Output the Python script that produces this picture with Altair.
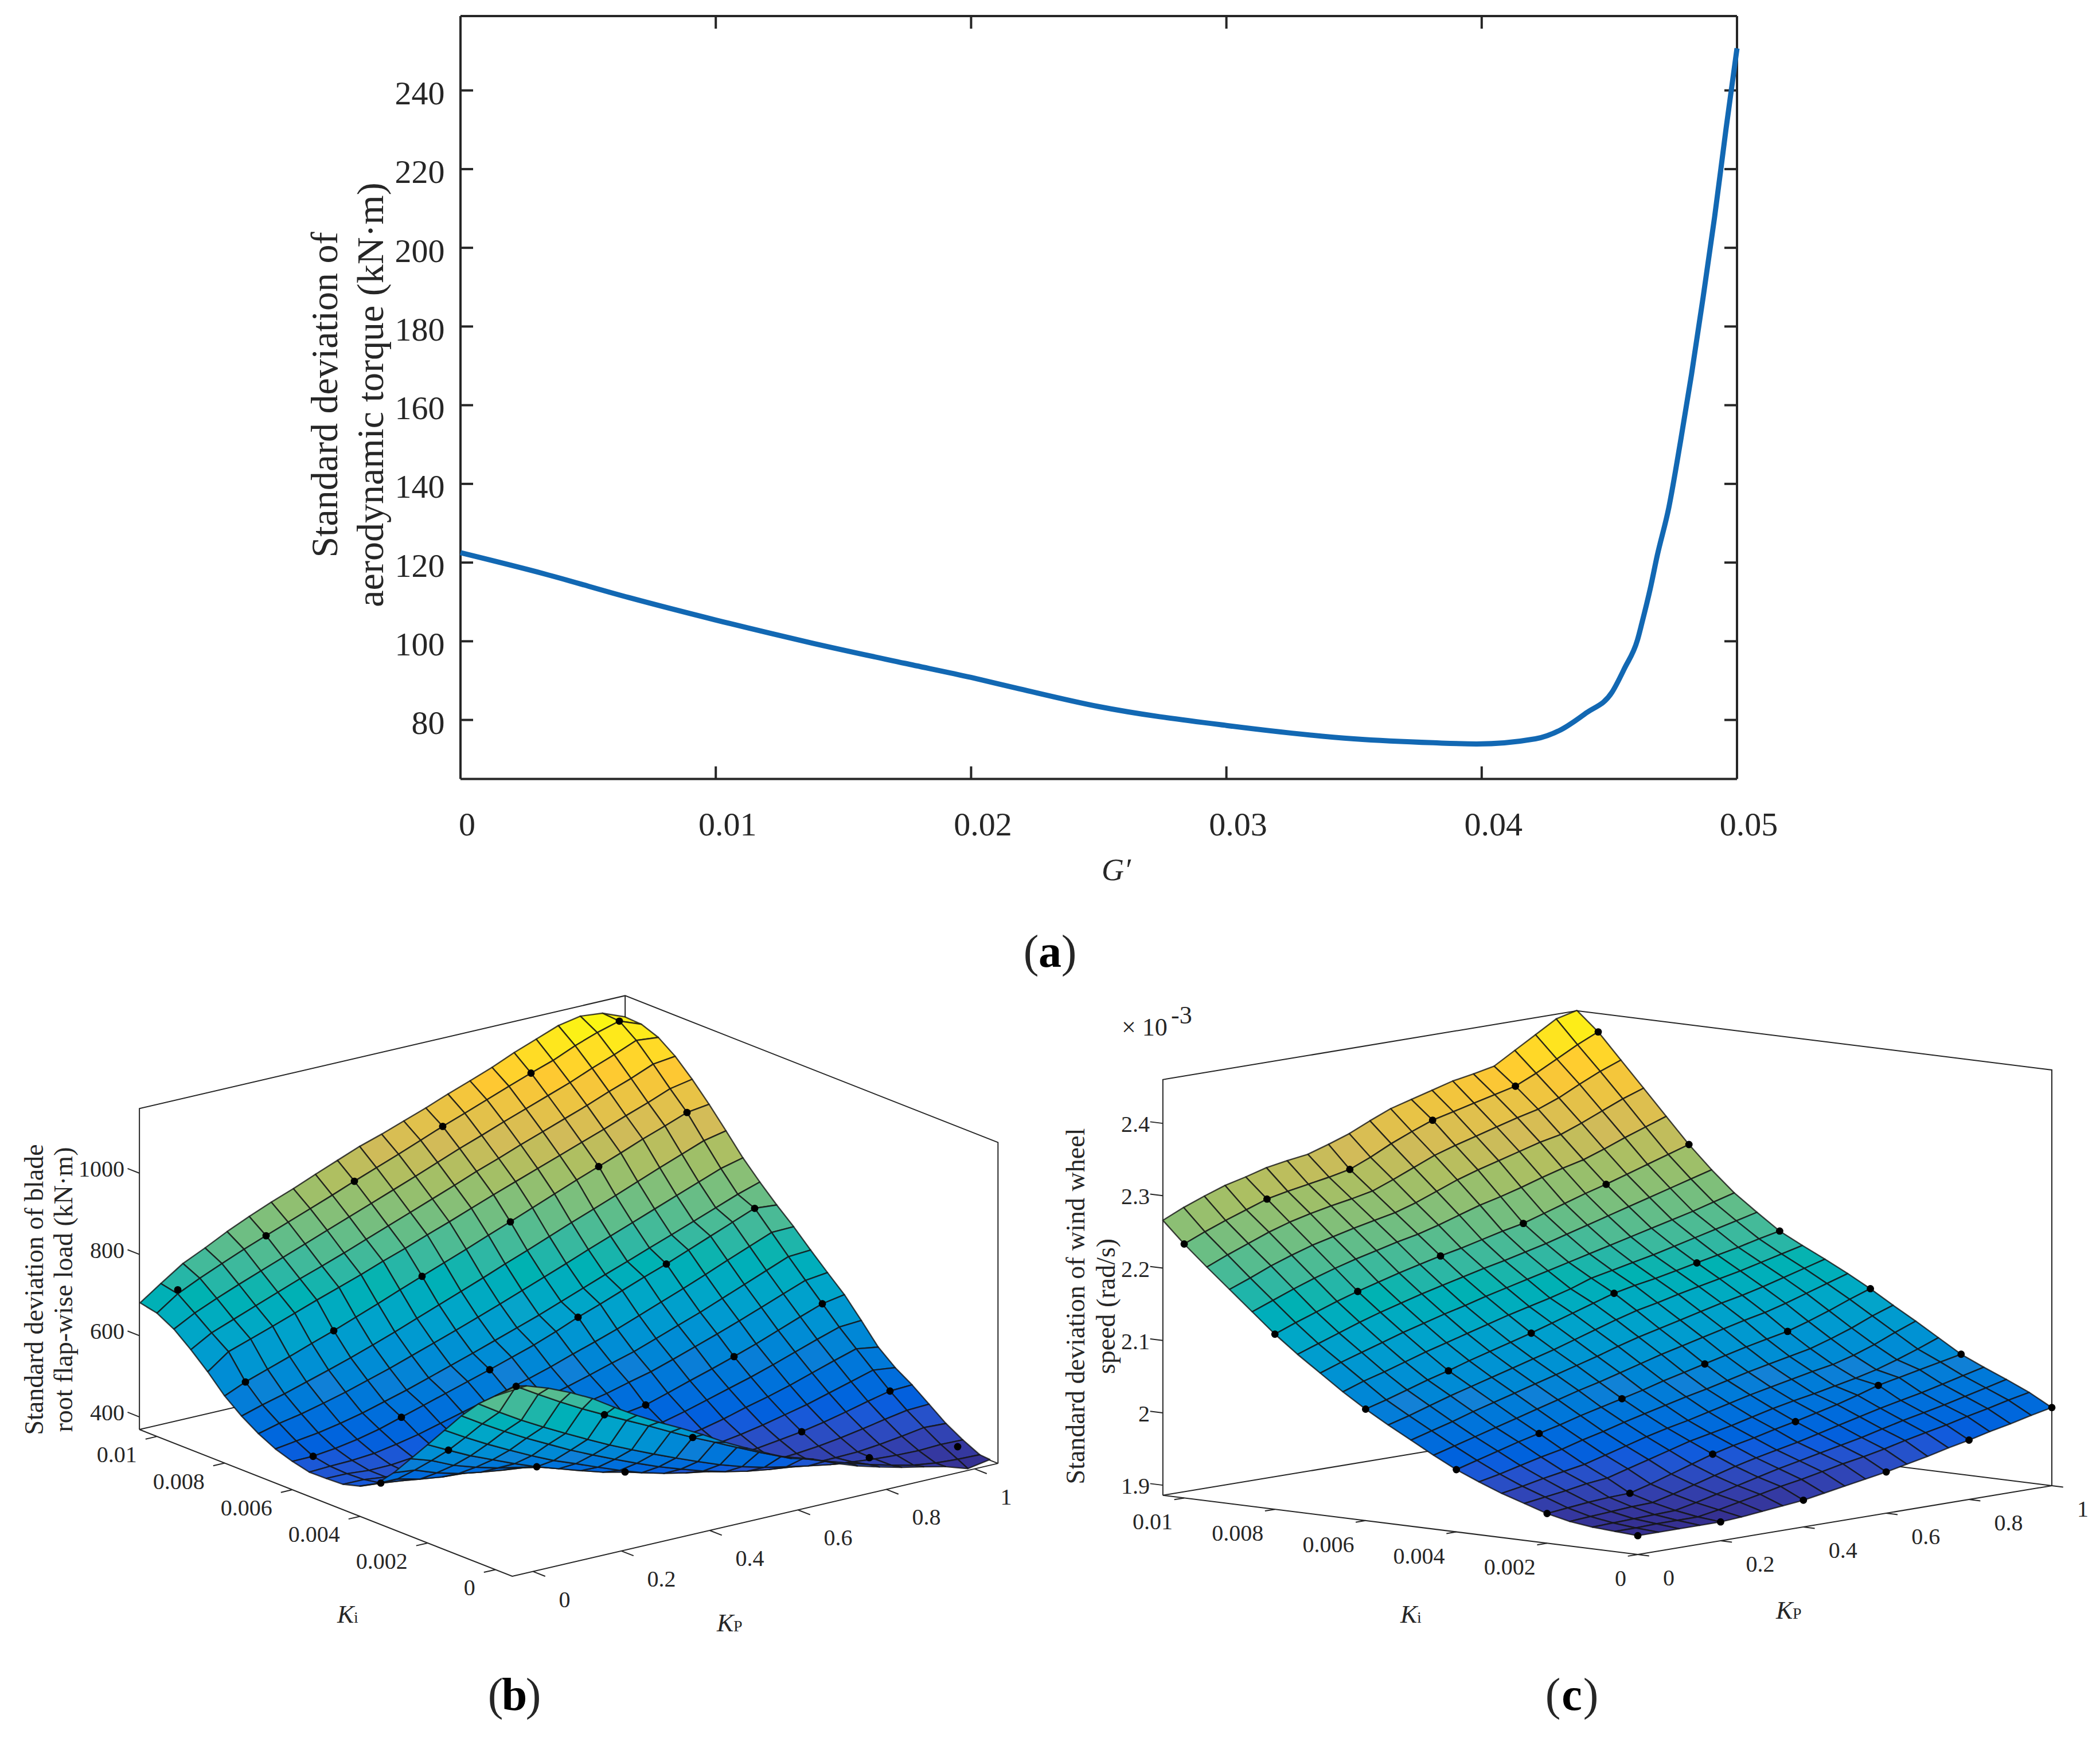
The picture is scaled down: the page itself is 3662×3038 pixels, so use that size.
import altair as alt
import pandas as pd

alt.data_transformers.disable_max_rows()

FONT = "Liberation Serif"
INK = "#262626"
PARULA = ["#352a87", "#0f5cdd", "#1481d6", "#06a4ca", "#2eb7a4",
          "#87bf77", "#d1bb59", "#fec832", "#f9fb0e"]

# ---------- panel (a) ----------
G_VALUES = [0, .0033, .0066, .01, .0138, .0174, .02, .0219, .025, .03, .035, .0381, .0398,
            .0421, .0431, .0441, .0451, .0456, .0461, .04627, .0466, .04688, .04733,
            .04778, .04822, .04867, .04912, .04957, .05]
TORQUE = [122.5, 117.1, 111.1, 105.4, 99.5, 94.4, 90.8, 87.9, 83.4, 78.6, 75.2, 74.2, 73.9,
          75.2, 77.5, 81.8, 87, 93.2, 100.3, 104.5, 113.3, 121.9, 134,
          150.5, 167.9, 187.3, 207.7, 230.2, 250.7]
A_XTICKS = [0, .01, .02, .03, .04, .05]
A_YTICKS = [80, 100, 120, 140, 160, 180, 200, 220, 240]

# ---------- panel (b): flap-wise load, kN*m ----------
B_KP = [-.047, 0, .05, .1, .15, .2, .25, .3, .35, .4, .45, .5, .55, .6, .65, .7, .75, .8, .85, .9, .95, 1, 1.05]
B_KI = [-.0003, 0, .0005, .001, .0015, .002, .0025, .003, .0035, .004, .0045, .005, .0055, .006,
        .0065, .007, .0075, .008, .0085, .009, .0095, .01, .0105]
B_Z = [
 [812,816,797,773,745,710,677,647,619,590,558,530,503,478,463,440,420,404,390,378,365,347,356],
 [794,805,772,740,710,682,655,628,600,573,548,522,497,473,455,435,417,400,385,372,364,360,358],
 [758,725,692,662,633,605,578,553,529,506,484,463,445,430,418,407,397,390,384,380,378,380,378],
 [712,680,648,618,590,562,537,513,490,468,449,431,416,404,395,388,384,384,385,390,397,405,402],
 [660,630,600,572,545,520,499,477,456,437,422,410,400,393,389,388,391,396,403,412,422,431,433],
 [608,582,555,532,509,488,470,452,435,422,412,404,399,396,397,401,408,415,425,437,450,462,464],
 [557,540,515,497,482,470,457,445,432,423,415,410,405,405,410,418,428,440,452,467,482,497,490],
 [506,500,480,465,455,447,440,432,425,422,420,419,419,420,428,440,455,468,483,500,517,533,524],
 [463,462,448,440,436,434,431,429,428,428,431,434,438,442,455,470,485,500,517,535,553,570,573],
 [440,435,428,424,424,428,430,433,436,440,446,452,460,468,484,501,517,534,552,572,592,611,620],
 [428,427,420,417,418,425,432,441,450,460,470,482,493,507,520,537,555,573,592,612,632,652,658],
 [426,425,420,420,425,433,444,456,468,480,493,507,522,538,553,572,591,610,631,652,673,694,697],
 [425,427,428,432,441,452,466,480,494,508,523,539,557,574,592,612,632,652,673,695,716,737,738],
 [435,435,441,450,462,478,494,510,526,542,559,576,596,618,637,657,677,696,717,738,759,780,775],
 [449,456,463,473,485,500,515,532,549,566,584,602,620,640,660,680,699,719,738,758,778,798,815],
 [470,483,493,506,520,536,552,570,588,606,625,644,664,684,704,725,745,765,785,805,825,845,858],
 [497,512,526,542,558,575,593,612,632,652,672,692,713,733,754,775,795,815,836,857,877,897,908],
 [530,552,570,588,607,625,645,665,686,706,726,746,767,787,808,829,850,870,890,911,930,950,957],
 [573,610,628,646,665,684,702,720,740,758,778,797,817,837,856,875,894,913,932,952,971,992,1002],
 [611,640,660,680,700,720,738,757,777,797,817,837,857,878,897,917,936,955,974,995,1014,1036,1042],
 [645,672,695,716,736,756,776,796,816,836,856,876,897,918,937,957,976,995,1014,1036,1056,1078,1072],
 [668,703,728,751,773,793,813,833,853,874,894,914,935,956,975,995,1015,1034,1052,1075,1094,1109,1088],
 [677,712,748,773,800,824,846,866,888,909,930,947,966,985,1006,1025,1045,1068,1088,1108,1118,1112,1090],
]
DOT_KP = [0, .2, .4, .6, .8, 1]
DOT_KI = [.01, .008, .006, .004, .002, 0]
B_DOTS = [
 [713, 793, 874, 956, 1034, 1109],
 [552, 625, 706, 787, 870, 950],
 [435, 478, 542, 618, 696, 780],
 [435, None, None, 468, 534, 611],
 [582, 488, 422, None, 415, 462],
 [805, 682, 573, None, 417, 391],
]
B_ZTICKS = [400, 600, 800, 1000]
KI_TICKS = [.01, .008, .006, .004, .002, 0]
KI_LABELS = ["0.01", "0.008", "0.006", "0.004", "0.002", "0"]
KP_TICKS = [0, .2, .4, .6, .8, 1]
KP_LABELS = ["0", "0.2", "0.4", "0.6", "0.8", "1"]

# ---------- panel (c): wind wheel speed, 1e-6 rad/s ----------
C_KP = [0, .05, .1, .15, .2, .25, .3, .35, .4, .45, .5, .55, .6, .65, .7, .75, .8, .85, .9, .95, 1]
C_KI = [0, .0005, .001, .0015, .002, .0025, .003, .0035, .004, .0045, .005, .0055, .006,
        .0065, .007, .0075, .008, .0085, .009, .0095, .01, .01047]
C_Z = [
 [1912,1912,1912,1912,1912,1914,1917,1920,1923,1928,1933,1938,1943,1949,1955,1962,1968,1975,1981,1988,1994],
 [1914,1914,1915,1915,1915,1920,1926,1932,1938,1943,1949,1955,1960,1966,1973,1979,1985,1992,1998,2005,2011],
 [1916,1917,1918,1919,1920,1926,1933,1940,1947,1954,1960,1966,1972,1978,1985,1992,1998,2004,2011,2018,2025],
 [1920,1922,1924,1926,1927,1934,1942,1950,1958,1965,1971,1977,1984,1991,1998,2005,2011,2017,2024,2031,2038],
 [1927,1930,1933,1935,1936,1944,1953,1962,1971,1978,1984,1991,1997,2004,2011,2019,2028,2034,2040,2046,2052],
 [1937,1941,1945,1950,1953,1961,1969,1977,1985,1991,1997,2004,2011,2017,2022,2028,2034,2041,2050,2060,2071],
 [1947,1952,1958,1963,1968,1976,1984,1992,1999,2005,2012,2019,2026,2032,2038,2044,2049,2057,2067,2079,2090],
 [1959,1965,1972,1979,1985,1993,2000,2008,2015,2022,2029,2035,2042,2049,2055,2061,2067,2076,2086,2098,2108],
 [1972,1980,1988,1996,2003,2010,2018,2025,2032,2039,2047,2054,2061,2068,2075,2081,2087,2096,2106,2117,2127],
 [1988,1996,2004,2012,2020,2028,2036,2044,2051,2059,2067,2075,2082,2089,2096,2103,2109,2117,2126,2135,2144],
 [2005,2013,2021,2030,2038,2046,2054,2062,2070,2078,2087,2095,2102,2109,2116,2123,2129,2136,2144,2152,2160],
 [2022,2030,2039,2048,2056,2064,2072,2080,2088,2097,2106,2115,2123,2129,2136,2142,2148,2154,2161,2168,2175],
 [2040,2048,2057,2066,2074,2083,2091,2099,2107,2116,2125,2134,2143,2149,2154,2160,2166,2172,2178,2185,2191],
 [2060,2070,2078,2087,2096,2104,2112,2120,2128,2135,2142,2150,2160,2166,2172,2178,2185,2192,2199,2206,2213],
 [2082,2092,2101,2110,2119,2127,2135,2142,2150,2157,2164,2171,2178,2185,2192,2199,2206,2213,2220,2228,2236],
 [2104,2114,2124,2134,2143,2151,2159,2166,2173,2180,2186,2193,2200,2208,2216,2224,2232,2240,2248,2256,2264],
 [2128,2139,2149,2159,2168,2176,2184,2191,2198,2204,2211,2218,2224,2233,2242,2251,2259,2268,2277,2286,2295],
 [2155,2166,2177,2187,2196,2204,2211,2218,2224,2232,2241,2250,2257,2265,2274,2282,2289,2299,2310,2320,2330],
 [2182,2193,2205,2215,2224,2231,2238,2244,2250,2259,2270,2281,2290,2298,2306,2314,2320,2331,2343,2355,2365],
 [2209,2221,2232,2243,2252,2259,2265,2270,2276,2287,2299,2311,2320,2328,2336,2344,2351,2362,2376,2389,2400],
 [2237,2249,2260,2270,2280,2286,2291,2296,2302,2314,2328,2340,2351,2358,2365,2372,2379,2392,2407,2422,2435],
 [2266,2279,2290,2300,2307,2315,2320,2324,2333,2343,2356,2368,2376,2384,2392,2397,2403,2420,2437,2454,2461],
]
C_DOTS = [
 [2237, 2280, 2302, 2351, 2379, 2435],
 [2128, 2168, 2198, 2224, 2259, 2295],
 [2040, 2074, 2107, 2143, 2166, 2191],
 [1972, 2003, 2032, 2061, 2087, 2127],
 [1927, 1936, 1971, 1997, 2028, 2052],
 [1912, 1912, 1923, 1943, 1968, 1994],
]
C_ZTICKS = [1900, 2000, 2100, 2200, 2300, 2400]
C_ZLABELS = ["1.9", "2", "2.1", "2.2", "2.3", "2.4"]

# ---------- page scale: all 3-D geometry is projected, then placed through these scales ----------
W, H = 3646, 3022
PX = alt.Scale(domain=[8, 8 + W], nice=False, zero=False)
PY = alt.Scale(domain=[8 + H, 8], nice=False, zero=False)
EX = alt.X("x:Q", scale=PX, axis=None)
EY = alt.Y("y:Q", scale=PY, axis=None)


def b_box(kp, ki, z=369):
    return 900 + 770 * kp - 59000 * ki, 2729 - 179 * kp - 23230 * ki - (z - 369) * .7085


def b_surf(kp, ki, z):
    return 900 + 770 * kp - 59000 * ki, 2726.6 - 188 * kp - 23350 * ki - (z - 369) * .7085


def c_box(kp, ki, z=1886):
    return 2856 + 722 * kp - 79100 * ki, 2711 - 120 * kp - 9857 * ki - (z - 1886) * 1.262


def segs(items):
    rows = []
    for s, pts in enumerate(items):
        for o, (x, y) in enumerate(pts):
            rows.append({"x": x, "y": y, "s": s, "o": o})
    return alt.Chart(pd.DataFrame(rows)).mark_line(color=INK, strokeWidth=2).encode(
        x=EX, y=EY, detail="s:N", order="o:Q")


def txt(rows, size, **kw):
    df = pd.DataFrame(rows, columns=["x", "y", "t"])
    opts = dict(font=FONT, fontSize=size, color=INK, align="center", baseline="middle")
    opts.update(kw)
    return alt.Chart(df).mark_text(**opts).encode(x=EX, y=EY, text="t:N")


def surface(kps, kis, zs, proj, zmin, zmax):
    rows = []
    n = 0
    for i in range(len(kps) - 2, -1, -1):
        for j in range(len(kis) - 2, -1, -1):
            corners = [(i, j), (i + 1, j), (i + 1, j + 1), (i, j + 1), (i, j)]
            mean = sum(zs[b][a] for a, b in corners[:4]) / 4
            lvl = (mean - zmin) / (zmax - zmin)
            for o, (a, b) in enumerate(corners):
                x, y = proj(kps[a], kis[b], zs[b][a])
                rows.append({"x": x, "y": y, "c": n, "o": o, "lvl": lvl})
            n += 1
    return alt.Chart(pd.DataFrame(rows)).mark_line(
        filled=True, stroke="#141414", strokeWidth=2.4, strokeOpacity=.8, strokeJoin="round"
    ).encode(
        x=EX, y=EY, detail="c:N", order="o:Q",
        fill=alt.Fill("lvl:Q", scale=alt.Scale(domain=[0, 1], range=PARULA), legend=None),
    )


def dots(table, proj):
    rows = []
    for r, ki in zip(table, DOT_KI):
        for z, kp in zip(r, DOT_KP):
            if z is not None:
                x, y = proj(kp, ki, z)
                rows.append({"x": x, "y": y})
    return alt.Chart(pd.DataFrame(rows)).mark_circle(size=165, color="black", opacity=1).encode(x=EX, y=EY)


def panel_letter(cx, base, letter):
    return [
        txt([(cx - 33, base, "(")], 80, baseline="alphabetic"),
        txt([(cx, base, letter)], 80, baseline="alphabetic", fontWeight="bold", color="#000000"),
        txt([(cx + 33, base, ")")], 80, baseline="alphabetic"),
    ]


def sub_label(x, base, letter):
    return [
        txt([(x, base, "K")], 44, baseline="alphabetic", align="left", fontStyle="italic"),
        txt([(x + 29, base, letter)], 28, baseline="alphabetic", align="left"),
    ]


# ---------- panel (a) chart ----------
AXW = 4
TICK_X, TICK_Y = .000494, 3.2
XMIN, XMAX, YMIN, YMAX = 0, .05, 65, 258.9
ax = alt.Scale(domain=[XMIN, XMAX], range=[795, 3021], nice=False, zero=False)
ay = alt.Scale(domain=[YMIN, YMAX], range=[1350.5, 20], nice=False, zero=False)

frame_rows = [(XMIN, XMAX, YMIN, YMIN), (XMIN, XMAX, YMAX, YMAX), (XMIN, XMIN, YMIN, YMAX), (XMAX, XMAX, YMIN, YMAX)]
for t in A_XTICKS[1:-1]:
    frame_rows.append((t, t, YMIN, YMIN + TICK_Y))
    frame_rows.append((t, t, YMAX - TICK_Y, YMAX))
for t in A_YTICKS:
    frame_rows.append((XMIN, XMIN + TICK_X, t, t))
    frame_rows.append((XMAX - TICK_X, XMAX, t, t))
frame_df = pd.DataFrame(frame_rows, columns=["x1", "x2", "y1", "y2"])
a_frame = alt.Chart(frame_df).mark_rule(color=INK, strokeWidth=AXW).encode(
    x=alt.X("x1:Q", scale=ax, axis=alt.Axis(
        values=A_XTICKS, format=".2~f", domain=False, ticks=False, grid=False,
        labelFont=FONT, labelFontSize=58, labelColor=INK, labelPadding=52,
        labelOverlap=False, labelFlush=False, labelBound=False,
        labelOffset={"condition": {"test": "datum.value === 0", "value": 11}, "value": 20},
        offset=-(H - 1350.5),
        title="G′", titleFont=FONT, titleFontStyle="italic", titleFontWeight="normal", titleFontSize=54,
        titleColor=INK, titleX=1938, titleY=160, titleAlign="center", titleBaseline="middle")),
    x2="x2:Q",
    y=alt.Y("y1:Q", scale=ay, axis=alt.Axis(
        values=A_YTICKS, domain=False, ticks=False, grid=False,
        labelFont=FONT, labelFontSize=58, labelColor=INK, labelPadding=28, labelOffset=7,
        labelOverlap=False, labelFlush=False, labelBound=False,
        offset=-795,
        title=["Standard deviation of", "aerodynamic torque (kN·m)"], titleFont=FONT, titleFontWeight="normal",
        titleFontSize=66, titleColor=INK, titleLineHeight=80, titleAngle=270,
        titleX=-236, titleY=680, titleAlign="center", titleBaseline="middle")),
    y2="y2:Q",
)
a_line = alt.Chart(pd.DataFrame({"g": G_VALUES, "sd": TORQUE})).mark_line(
    color="#1268B3", strokeWidth=9, strokeCap="butt", strokeJoin="round", interpolate="monotone"
).encode(x=alt.X("g:Q", scale=ax), y=alt.Y("sd:Q", scale=ay))
panel_a = alt.layer(a_frame, a_line)

# ---------- panel (b) geometry ----------
BKP0, BKP1, BKI0, BKI1, BZ0, BZ1 = -.047, 1.053, -.0005, .01052, 369, 1159
b_back = segs([
    [b_box(BKP0, BKI1, BZ0), b_box(BKP0, BKI1, BZ1), b_box(BKP1, BKI1, BZ1), b_box(BKP1, BKI0, BZ1), b_box(BKP1, BKI0, BZ0)],
    [b_box(BKP1, BKI1, BZ1), b_box(BKP1, BKI1, BZ0)],
    [b_box(BKP0, BKI1, BZ0), b_box(BKP1, BKI1, BZ0), b_box(BKP1, BKI0, BZ0)],
    [b_box(BKP0, BKI1, BZ0), b_box(BKP0, BKI0, BZ0), b_box(BKP1, BKI0, BZ0)],
] + [[b_box(BKP0, BKI1, z), b_box(BKP0, BKI1 + .00035, z)] for z in B_ZTICKS]
  + [[b_box(BKP0, k), b_box(BKP0 - .026, k)] for k in KI_TICKS]
  + [[b_box(k, BKI0), b_box(k, BKI0 - .00036)] for k in KP_TICKS])
b_text = [
    txt([(217, b_box(BKP0, BKI1, z)[1] - 6, str(z)) for z in B_ZTICKS], 40, align="right"),
    txt([(b_box(BKP0, k)[0] - 35, b_box(BKP0, k)[1] + 33, l) for k, l in zip(KI_TICKS, KI_LABELS)], 40, align="right"),
    txt([(b_box(k, BKI0)[0] + 45, b_box(k, BKI0)[1] + 50, l) for k, l in zip(KP_TICKS, KP_LABELS)], 40, align="left"),
    txt([(61, 2249, "Standard deviation of blade")], 46, angle=270),
    txt([(112, 2249, "root flap-wise load  (kN·m)")], 46, angle=270),
] + sub_label(588, 2830, "i") + sub_label(1250, 2845, "P") + panel_letter(897, 2982, "b")

# ---------- panel (c) geometry ----------
CKP0, CKP1, CKI0, CKI1, CZ0, CZ1 = 0, 1, 0, .01047, 1886, 2460.5
c_back = segs([
    [c_box(CKP0, CKI1, CZ0), c_box(CKP0, CKI1, CZ1), c_box(CKP1, CKI1, CZ1), c_box(CKP1, CKI0, CZ1), c_box(CKP1, CKI0, CZ0)],
    [c_box(CKP1, CKI1, CZ1), c_box(CKP1, CKI1, CZ0)],
    [c_box(CKP0, CKI1, CZ0), c_box(CKP1, CKI1, CZ0), c_box(CKP1, CKI0, CZ0)],
    [c_box(CKP0, CKI1, CZ0), c_box(CKP0, CKI0, CZ0), c_box(CKP1, CKI0, CZ0)],
] + [[c_box(CKP0, CKI1, z), c_box(CKP0, CKI1 + .00028, z)] for z in C_ZTICKS]
  + [[c_box(CKP0, k), c_box(CKP0 - .024, k)] for k in KI_TICKS]
  + [[c_box(k, CKI0), c_box(k, CKI0 - .00025)] for k in KP_TICKS])
c_text = [
    txt([(2005, c_box(CKP0, CKI1, z)[1] + 3, l) for z, l in zip(C_ZTICKS, C_ZLABELS)], 40, align="right"),
    txt([(c_box(CKP0, k)[0] - 20, c_box(CKP0, k)[1] + 43, l) for k, l in zip(KI_TICKS, KI_LABELS)], 40, align="right"),
    txt([(c_box(k, CKI0)[0] + 44, c_box(k, CKI0)[1] + 42, l) for k, l in zip(KP_TICKS, KP_LABELS)], 40, align="left"),
    txt([(1877, 2278, "Standard deviation of wind wheel")], 46, angle=270),
    txt([(1930, 2278, "speed (rad/s)")], 46, angle=270),
    txt([(1956, 1793, "× 10")], 44, align="left"),
    txt([(2042, 1772, "-3")], 44, align="left"),
] + sub_label(2442, 2830, "i") + sub_label(3097, 2823, "P") + panel_letter(2741, 2982, "c")

a_text = panel_letter(1831, 1686, "a")

px_layer = alt.layer(
    b_back,
    surface(B_KP, B_KI, B_Z, b_surf, 341, 1118),
    dots(B_DOTS, b_surf),
    c_back,
    surface(C_KP, C_KI, C_Z, c_box, 1905, 2461),
    dots(C_DOTS, c_box),
    *b_text, *c_text, *a_text,
)

chart = alt.layer(panel_a, px_layer).resolve_scale(x="independent", y="independent").properties(
    width=W, height=H, padding=0, background="white",
    autosize=alt.AutoSizeParams(type="none", contains="padding"),
).configure_view(stroke=None)

chart.save("out.html", embed_options={"renderer": "svg", "actions": False})
